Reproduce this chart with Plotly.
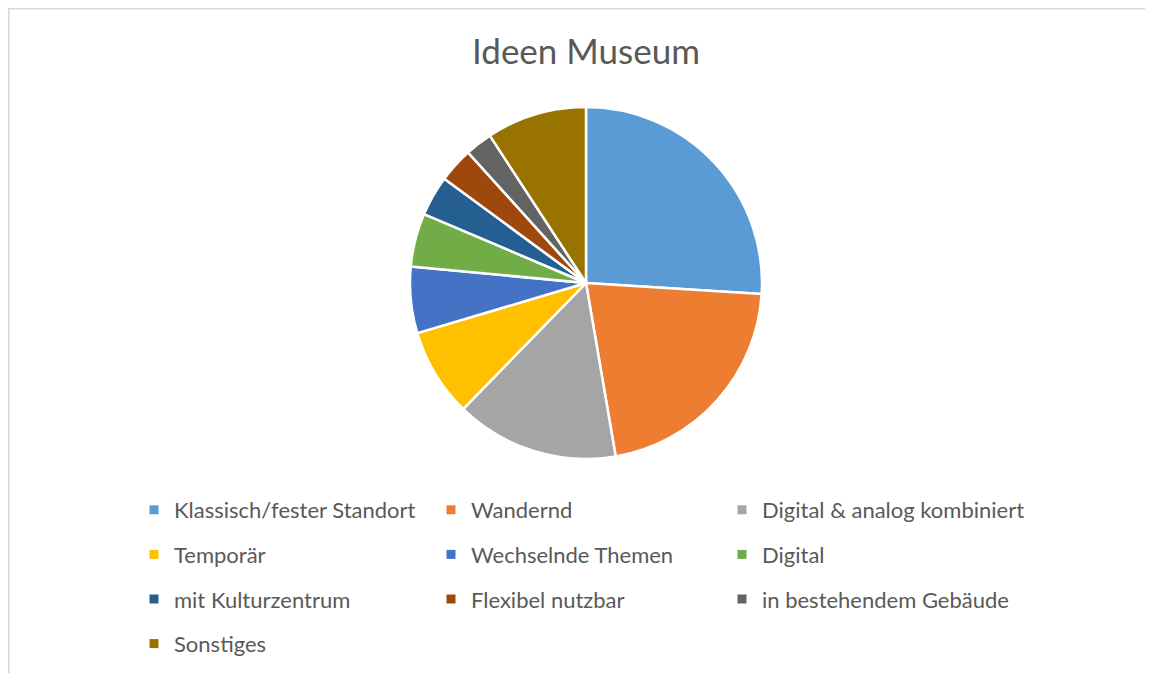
import plotly.graph_objects as go

labels = ["Klassisch/fester Standort", "Wandernd", "Digital & analog kombiniert",
          "Temporär", "Wechselnde Themen", "Digital", "mit Kulturzentrum",
          "Flexibel nutzbar", "in bestehendem Gebäude", "Sonstiges"]
values = [26.0, 21.3, 15.0, 8.1, 6.1, 4.9, 3.7, 3.2, 2.5, 9.2]
colors = ["#5B9BD5", "#ED7D31", "#A5A5A5", "#FFC000", "#4472C4",
          "#70AD47", "#255E91", "#9E480E", "#636363", "#997300"]

W, H = 1153, 673
cx, cy, r = 578, 275, 176
TXT = "#595959"

fig = go.Figure()
fig.add_trace(go.Pie(
    labels=labels,
    values=values,
    sort=False,
    direction="clockwise",
    rotation=0,
    marker=dict(colors=colors, line=dict(color="white", width=2.5)),
    textinfo="none",
    hoverinfo="label+percent",
    showlegend=False,
    domain=dict(x=[(cx - r) / W, (cx + r) / W], y=[1 - (cy + r) / H, 1 - (cy - r) / H]),
))

# legend entries laid out in three columns, each column its own legend
legend_names = ["legend", "legend2", "legend3"]
for i, (lab, col) in enumerate(zip(labels, colors)):
    fig.add_trace(go.Scatter(
        x=[None], y=[None], mode="markers", name=lab,
        marker=dict(symbol="square", size=9, color=col),
        legend=legend_names[i % 3], legendgroup=f"g{i}",
        showlegend=True, hoverinfo="skip",
    ))

col_x = [126, 423, 714]
leg_common = dict(orientation="v", xanchor="left", yanchor="top",
                  y=1 - 481 / H, tracegroupgap=13,
                  font=dict(size=22, color=TXT, family="Lato, Open Sans, sans-serif"),
                  bgcolor="rgba(0,0,0,0)", traceorder="grouped")
legends = {name: dict(x=x / W, **leg_common) for name, x in zip(legend_names, col_x)}

fig.update_layout(
    width=W, height=H,
    margin=dict(l=0, r=0, t=0, b=0),
    paper_bgcolor="white",
    plot_bgcolor="rgba(0,0,0,0)",
    font=dict(family="Lato, Open Sans, sans-serif", color=TXT),
    title=dict(text="Ideen Museum", x=cx / W, xanchor="center", y=1 - 44 / H, yanchor="middle",
               font=dict(size=35, color=TXT)),
    xaxis=dict(visible=False),
    yaxis=dict(visible=False),
    shapes=[
        dict(type="line", xref="paper", yref="paper", x0=0, x1=1.0, y0=1 - 0.8 / H, y1=1 - 0.8 / H,
             line=dict(color="#D9D9D9", width=1.6)),
        dict(type="line", xref="paper", yref="paper", x0=0.8 / W, x1=0.8 / W, y0=0, y1=1,
             line=dict(color="#D9D9D9", width=1.6)),
    ],
    **legends,
)

fig.write_html("out.html")
